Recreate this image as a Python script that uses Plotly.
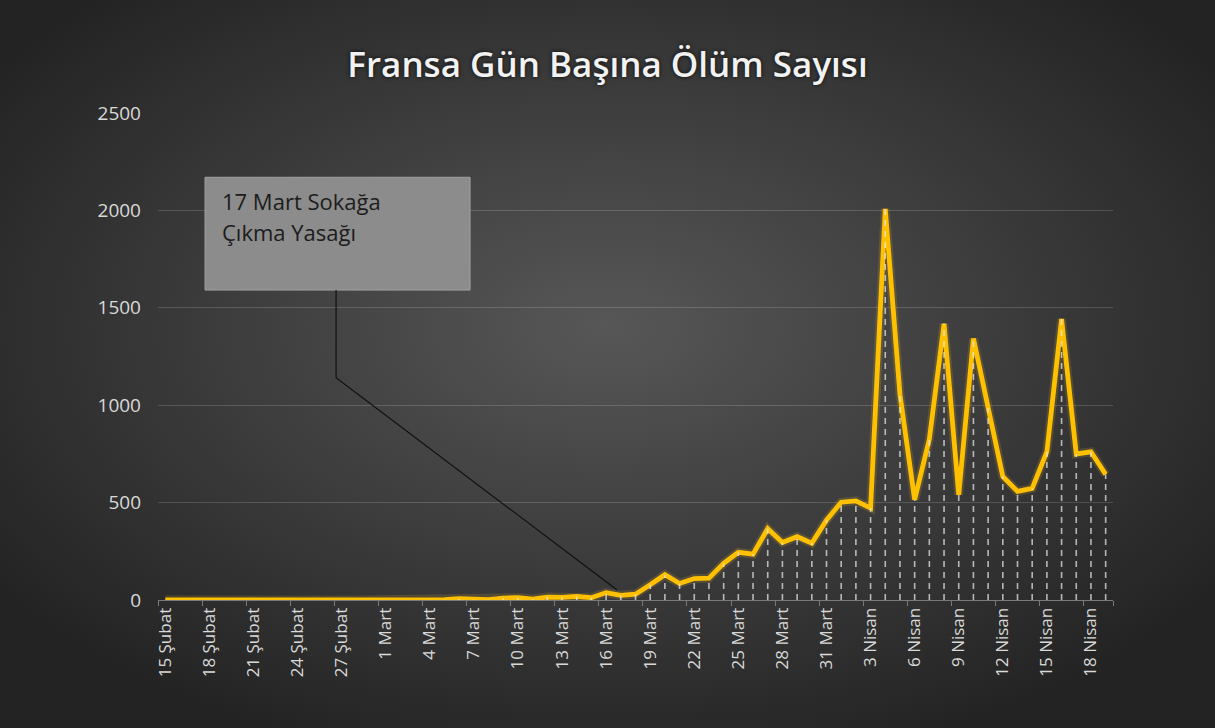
import base64
import plotly.graph_objects as go

# ---------------- data ----------------
dates = (
    [f"{d} Şubat" for d in range(15, 30)]
    + [f"{d} Mart" for d in range(1, 32)]
    + [f"{d} Nisan" for d in range(1, 20)]
)

deaths = [
    1, 0, 0, 0, 0, 0, 0, 0, 0, 0, 0, 1, 0, 0, 0,          # 15-29 Şubat
    0, 1, 0, 1, 2, 7, 3, 2, 10, 12, 5, 15, 13, 18, 12,    # 1-15 Mart
    38, 24, 30, 78, 130, 85, 110, 112, 188, 245, 235,     # 16-26 Mart
    366, 295, 325, 292, 410,                              # 27-31 Mart
    502, 509, 472, 2008, 1055, 515, 826, 1418, 540, 1342, # 1-10 Nisan
    985, 634, 558, 573, 761, 1442, 750, 761, 645,         # 11-19 Nisan
]

tick_idx = list(range(0, len(dates), 3))
tick_labels = [dates[i] for i in tick_idx]

title_text = "Fransa Gün Başına Ölüm Sayısı"
callout_lines = ["17 Mart Sokağa", "Çıkma Yasağı"]
x = list(range(len(dates)))

# ---------------- figure ----------------
W, H = 1215, 728
ML, MR, MT, MB = 158, 102, 113, 128
PW, PH = W - ML - MR, H - MT - MB

fig = go.Figure()

# glow under line
fig.add_trace(go.Scatter(x=x, y=deaths, mode="lines",
                         line=dict(color="rgba(255,200,40,0.15)", width=9),
                         hoverinfo="skip", showlegend=False))
fig.add_trace(go.Scatter(x=x, y=deaths, mode="lines",
                         line=dict(color="#FFC000", width=4.8),
                         customdata=dates,
                         hovertemplate="%{customdata}: %{y}<extra></extra>",
                         showlegend=False))

# drop lines
dx, dy = [], []
for xi, v in zip(x, deaths):
    dx += [xi, xi, None]
    dy += [0, v, None]
fig.add_trace(go.Scatter(x=dx, y=dy, mode="lines",
                         line=dict(color="rgba(235,235,235,0.72)", width=1.6,
                                   dash="6px,5px"),
                         hoverinfo="skip", showlegend=False))

# background radial gradient
svg = (
    f'<svg xmlns="http://www.w3.org/2000/svg" width="{W}" height="{H}">'
    '<defs><radialGradient id="g" cx="50%" cy="45%" r="62%">'
    '<stop offset="0%" stop-color="#575757"/>'
    '<stop offset="100%" stop-color="#232323"/>'
    '</radialGradient></defs>'
    f'<rect width="{W}" height="{H}" fill="url(#g)"/></svg>'
)
src = "data:image/svg+xml;base64," + base64.b64encode(svg.encode()).decode()
fig.add_layout_image(dict(source=src, xref="paper", yref="paper",
                          x=-ML / PW, y=1 + MT / PH, sizex=W / PW, sizey=H / PH,
                          xanchor="left", yanchor="top", sizing="stretch",
                          layer="below"))

# callout box and connector
fig.add_shape(type="rect", x0=2.7, x1=20.74, y0=1591, y1=2170,
              fillcolor="#8c8c8c", line=dict(color="#a0a0a0", width=1))
fig.add_shape(type="path", path="M 11.62,1591 L 11.62,1141 L 30.75,51",
              line=dict(color="#111111", width=1.2))
fig.add_annotation(x=3.75, y=2050, text=callout_lines[0], showarrow=False,
                   xanchor="left", yanchor="middle",
                   font=dict(family="Open Sans", size=22, color="#1c1c1c"))
fig.add_annotation(x=3.75, y=1890, text=callout_lines[1], showarrow=False,
                   xanchor="left", yanchor="middle",
                   font=dict(family="Open Sans", size=22, color="#1c1c1c"))

fig.update_layout(
    width=W, height=H,
    margin=dict(l=ML, r=MR, t=MT, b=MB),
    paper_bgcolor="#2b2b2b",
    plot_bgcolor="rgba(0,0,0,0)",
    title=dict(text=title_text, x=0.5, xref="container", xanchor="center",
               y=1 - 65 / H, yref="container", yanchor="middle",
               font=dict(family="Open Sans", size=35, color="#f2f2f2",
                         weight=600, shadow="0px 0px 4px rgba(0,0,0,0.8)")),
    xaxis=dict(range=[-0.5, len(dates) - 0.5], tickvals=tick_idx,
               ticktext=tick_labels, tickangle=-90, ticks="",
               showgrid=False, zeroline=False, showline=True,
               linecolor="#7a7a7a", linewidth=1,
               tickfont=dict(family="Open Sans", size=17, color="#d9d9d9"),
               minor=dict(tickvals=[i - 0.5 for i in tick_idx] + [len(dates) - 0.5],
                          ticks="outside", ticklen=5, tickcolor="#7a7a7a",
                          showgrid=False)),
    yaxis=dict(range=[0, 2500], dtick=500, showgrid=True,
               gridcolor="rgba(255,255,255,0.16)", gridwidth=1,
               zeroline=False, showline=False, ticks="",
               ticklabelstandoff=16,
               tickfont=dict(family="Open Sans", size=19, color="#d9d9d9")),
    showlegend=False,
)

fig.write_html("out.html",
               config={"displayModeBar": False},
               post_script="document.body.style.margin='0';"
                           "document.body.style.background='#232323';")
